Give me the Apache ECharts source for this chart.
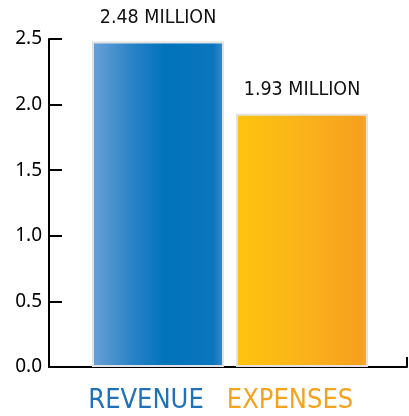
<!DOCTYPE html>
<html>
<head>
<meta charset="utf-8">
<script src="https://cdn.jsdelivr.net/npm/echarts@6/dist/echarts.min.js"></script>
<style>
  html, body { margin: 0; padding: 0; background: #fff; }
  #chart { width: 409px; height: 416px; }
</style>
</head>
<body>
<div id="chart"></div>
<script>
// data
var categories = ['REVENUE', 'EXPENSES'];
var values = [2.48, 1.93];
var labelColors = ['#1f72b8', '#f7a21d'];
var yTicks = [0, 0.5, 1.0, 1.5, 2.0, 2.5];

var narrow = '"Liberation Sans Narrow", "DejaVu Sans Condensed", sans-serif';

// bar fills, left to right
var fills = [
    new echarts.graphic.LinearGradient(0, 0, 1, 0, [
        {offset: 0, color: '#6ba1d7'},
        {offset: 0.3, color: '#2a83c7'},
        {offset: 0.55, color: '#0073bb'},
        {offset: 0.92, color: '#0a76bd'},
        {offset: 1, color: '#3f8bca'}
    ]),
    new echarts.graphic.LinearGradient(0, 0, 1, 0, [
        {offset: 0, color: '#fec40f'},
        {offset: 0.5, color: '#fbb31a'},
        {offset: 0.95, color: '#f6a01f'},
        {offset: 1, color: '#f8ad3c'}
    ])
];

var myChart = echarts.init(document.getElementById('chart'));

var barData = values.map(function (v, i) {
    return {value: v, itemStyle: {color: fills[i]}};
});
var catData = categories.map(function (c, i) {
    return {value: c, textStyle: {color: labelColors[i]}};
});

var option = {
    animation: false,
    grid: [
        // frame: axes lines and y labels
        {left: 49, right: 2, top: 39, bottom: 49},
        // bars
        {left: 86, right: 35, top: 39, bottom: 49}
    ],
    xAxis: [
        {
            gridIndex: 0,
            type: 'value',
            min: 0,
            max: 1,
            interval: 1,
            axisLine: {show: true, lineStyle: {color: '#000', width: 2}},
            axisTick: {show: true, inside: true, length: 10, lineStyle: {color: '#000', width: 2}},
            axisLabel: {show: false},
            splitLine: {show: false}
        },
        {
            gridIndex: 1,
            type: 'category',
            data: catData,
            axisLine: {show: false},
            axisTick: {show: false},
            axisLabel: {
                interval: 0,
                hideOverlap: false,
                margin: 20,
                fontSize: 27,
                fontFamily: narrow,
                padding: [0, 24, 0, 0]
            }
        }
    ],
    yAxis: [
        {
            gridIndex: 0,
            type: 'value',
            min: yTicks[0],
            max: yTicks[yTicks.length - 1],
            interval: 0.5,
            axisLine: {show: true, lineStyle: {color: '#000', width: 2}},
            axisTick: {show: true, inside: true, length: 13, lineStyle: {color: '#000', width: 2}},
            axisLabel: {
                margin: 7,
                fontSize: 19,
                fontFamily: '"Noto Sans", sans-serif',
                color: '#000',
                formatter: function (v) { return v.toFixed(1); }
            },
            splitLine: {show: false}
        },
        {
            gridIndex: 1,
            type: 'value',
            min: yTicks[0],
            max: yTicks[yTicks.length - 1],
            show: false
        }
    ],
    series: [
        {
            type: 'bar',
            xAxisIndex: 1,
            yAxisIndex: 1,
            barWidth: 132,
            data: barData,
            itemStyle: {borderColor: '#e2e2e2', borderWidth: 2},
            label: {
                show: true,
                position: 'top',
                distance: 14,
                fontSize: 19.5,
                fontFamily: narrow,
                color: '#111',
                formatter: function (p) { return p.value + ' MILLION'; }
            }
        }
    ]
};

myChart.setOption(option);
</script>
</body>
</html>
